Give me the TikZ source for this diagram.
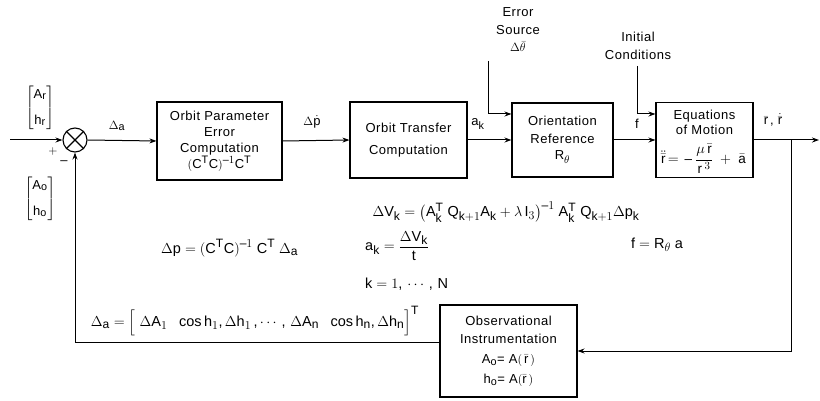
\documentclass[tikz,border=0pt]{standalone}
\usepackage{amsmath}
\usepackage{fontspec}
\setmainfont{Liberation Sans}[LetterSpace=4]
\usepackage{mathastext}
\usetikzlibrary{arrows.meta}
\begin{document}
\begin{tikzpicture}[x=1pt,y=-1pt,
  font=\fontsize{13}{16}\selectfont,
  blk/.style={draw, line width=1.1pt, align=center, inner sep=1pt},
  conn/.style={line width=1pt, -{Stealth[length=7pt,width=5pt]}},
  oconn/.style={line width=1pt, -{Stealth[open,length=7pt,width=5pt]}},
  lbl/.style={inner sep=1pt},
  eqn/.style={inner sep=1pt, font=\fontsize{14.5}{17}\selectfont}]
\path[use as bounding box, fill=white] (0,0) rectangle (820,401);

% summing junction
\node[circle, draw, line width=1.1pt, minimum size=24pt, inner sep=0pt] (sum) at (75,140) {};
\draw[line width=1.1pt] (sum.north west) -- (sum.south east) (sum.north east) -- (sum.south west);

% blocks
\node[blk, minimum width=125pt, minimum height=78pt] (ope) at (219.5,141)
  {Orbit Parameter\\[0pt] Error\\[0pt] Computation\\[0pt] $(C^TC)^{-1}C^T$};
\node[blk, minimum width=117pt, minimum height=76pt] (otc) at (408.5,140)
  {Orbit Transfer\\[6pt] Computation};
\node[blk, minimum width=101pt, minimum height=74pt] (ori) at (562.5,140)
  {Orientation\\[2pt] Reference\\[0pt] R$_\theta$};
\node[blk, minimum width=97pt, minimum height=75pt, inner sep=0pt] (eom) at (704.5,140) {};
\node[inner sep=0pt, align=center] (eomt) at (704.5,122) {Equations\\[-1pt] of Motion};
\node[inner sep=0pt] (eomf) at (703.5,159)
  {\fontsize{13.5}{16}\selectfont$\ddot{\bar r}\,{=}\,-\dfrac{\mu\,\bar r}{r\,^3}\;+\;\bar a$};
\node[blk, minimum width=137pt, minimum height=92pt] (obs) at (508.5,351)
  {Observational\\[2pt] Instrumentation\\[4pt] A$_o$= A$(\,\bar r\,)$\\[4pt] h$_o$= A$(\bar r\,)$};

% inputs and reference vectors
\node[lbl] (ref) at (40,108) {$\begin{bmatrix} A_r\\[10pt] h_r\end{bmatrix}$};
\node[lbl] (obsv) at (40,199) {$\begin{bmatrix} A_o\\[10pt] h_o\end{bmatrix}$};
\coordinate (in) at (10,140);
\draw[conn] (in) -- (sum.west);
\node[lbl] (plus) at (53,152) {$+$};
\node[lbl] (minus) at (64,163) {$-$};

% forward path
\draw[conn] (sum.east) -- (ope.west);
\node[lbl] (da) at (117,126) {$\Delta_a$};
\draw[conn] (ope.east) -- (otc.west);
\node[lbl] (dp) at (312,122) {$\Delta\dot{p}$};
\draw[oconn] (otc.east) -- (ori.west);
\node[lbl] (ak) at (478,124) {$a_k$};
\draw[conn] (ori.east) -- (eom.west);
\node[lbl] (f) at (637,124) {$f$};
\coordinate (out) at (819,140);
\draw[conn] (eom.east) -- (out);
\node[lbl] (rr) at (773,120) {$\bar r\,,\,\dot{\bar r}$};

% error source
\node[align=center, inner sep=0pt] (err) at (518,30) {Error\\[2pt] Source\\[1pt] $\Delta\bar\theta$};
\coordinate (errc) at (488,61);
\coordinate (auxy) at (0,114);
\draw[conn] (errc) |- (ori.west |- auxy);

% initial conditions
\node[align=center, inner sep=0pt] (ic) at (638,46) {Initial\\[2pt] Conditions};
\coordinate (icc) at (637,66);
\draw[conn] (icc) |- (eom.west |- auxy);

% feedback
\coordinate (br) at (791,140);
\draw[conn] (br) |- (obs.east);
\draw[conn] ([yshift=9pt]obs.west) -| (sum.south);

% equations
\node[eqn] (eqdv) at (506,212) {$\Delta V_k = \big(A_k^T\; Q_{k+1} A_k + \lambda\, I_3\big)^{-1}\; A_k^T\; Q_{k+1}\Delta p_k$};
\node[eqn, anchor=west] (eqak) at (364,246) {$a_k = \dfrac{\Delta V_k}{t}$};
\node[eqn, anchor=west] (eqk) at (364,284) {$k = 1,\,\cdots,\,N$};
\node[eqn, anchor=west] (eqdp) at (160,248) {$\Delta p = (C^T C)^{-1}\; C^T\; \Delta_a$};
\node[eqn, anchor=west] (eqf) at (630,245) {$f = R_\theta\; a$};
\node[eqn] (eqda) at (255,321) {$\Delta_a = \Big[\;\Delta A_1\ \ \cos h_1, \Delta h_1\,, \cdots, \,\Delta A_n\ \ \cos h_n, \Delta h_n\Big]^T$};
\end{tikzpicture}
\end{document}
